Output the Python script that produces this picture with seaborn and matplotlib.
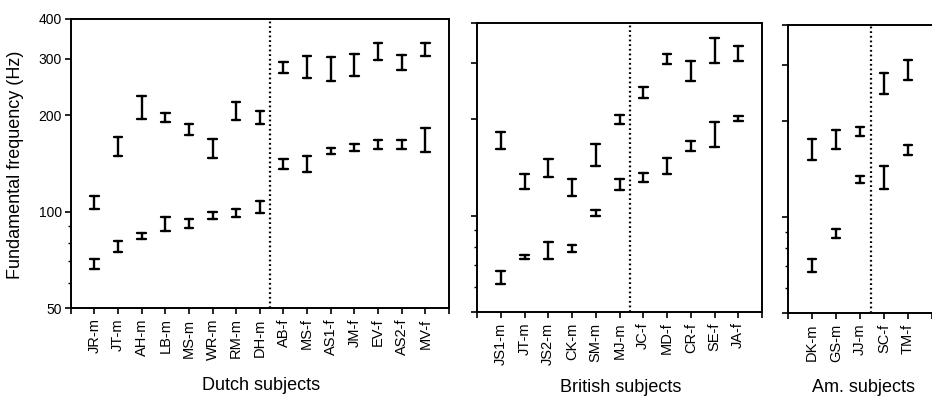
import matplotlib
matplotlib.use("Agg")
import matplotlib.pyplot as plt
from matplotlib.ticker import FixedLocator, NullFormatter, FixedFormatter
import seaborn as sns
import pandas as pd

# ---- Dutch speakers ----
dutch_subjects = ["JR-m", "JT-m", "AH-m", "LB-m", "MS-m", "WR-m", "RM-m", "DH-m",
                  "AB-f", "MS-f", "AS1-f", "JM-f", "EV-f", "AS2-f", "MV-f"]
dutch_low_lo = [66, 75, 82, 87, 89, 95, 96.5, 99, 136, 133, 151, 155, 157, 157, 154]
dutch_low_hi = [71, 81, 86, 96, 95, 99.5, 102, 108, 146, 149, 158, 163, 168, 167.5, 183]
dutch_high_lo = [102, 149, 195, 191, 174, 147, 193, 188, 271, 261, 256, 265, 298, 278, 307]
dutch_high_hi = [112, 171, 230, 204, 188, 169, 220, 206, 294, 307, 304, 310, 337, 309, 336]

# ---- British speakers ----
british_subjects = ["JS1-m", "JT-m", "JS2-m", "CK-m", "SM-m", "MJ-m",
                    "JC-f", "MD-f", "CR-f", "SE-f", "JA-f"]
british_low_lo = [61, 73, 73, 77, 100, 120, 127, 134.5, 159, 164, 197]
british_low_hi = [67, 75.5, 83, 81, 104, 130, 136, 151, 171, 196, 205]
british_high_lo = [161, 121, 132, 115, 143, 193, 233, 297, 263, 301, 305]
british_high_hi = [182, 134.5, 150, 130, 167, 206, 253, 320, 305, 358, 340]

# ---- American speakers ----
am_subjects = ["DK-m", "GS-m", "JJ-m", "SC-f", "TM-f"]
am_low_lo = [67, 86, 127.5, 122, 156]
am_low_hi = [74, 91.5, 134, 145, 168]
am_high_lo = [151, 163, 180, 243, 269]
am_high_hi = [175, 187, 192, 282, 311]

y_ticks = [50, 100, 200, 300, 400]
y_minor = [60, 70, 80, 90]

sns.set_style("ticks")
plt.rcParams["font.family"] = ["Liberation Sans", "DejaVu Sans"]
plt.rcParams.update({"text.color": "black", "axes.labelcolor": "black",
                     "xtick.color": "black", "ytick.color": "black"})

W, H = 932, 401
fig = plt.figure(figsize=(W / 100, H / 100), dpi=100)


def long_frame(subjects, low_lo, low_hi, high_lo, high_hi):
    rows = []
    for s, a, b, c, d in zip(subjects, low_lo, low_hi, high_lo, high_hi):
        rows += [(s, "low", a), (s, "low", b), (s, "high", c), (s, "high", d)]
    return pd.DataFrame(rows, columns=["subject", "band", "f0"])


def panel(px_left, px_right, px_top, px_bottom, subjects, lows_highs,
          split, xmax=None, ylabels=False, right_spine=True):
    ax = fig.add_axes([px_left / W, (H - px_bottom) / H,
                       (px_right - px_left) / W, (px_bottom - px_top) / H])
    df = long_frame(subjects, *lows_highs)
    sns.pointplot(data=df, x="subject", y="f0", hue="band", order=subjects,
                  hue_order=["low", "high"], palette=["black", "black"],
                  errorbar=("pi", 100), dodge=False, linestyle="none",
                  marker="", markersize=0, capsize=0.36,
                  err_kws={"linewidth": 1.7}, legend=False, ax=ax)
    n = len(subjects)
    ax.set_yscale("log")
    ax.set_ylim(50, 400)
    ax.set_xlim(-1, n if xmax is None else xmax)
    ax.axvline(split, color="black", linestyle=(0, (0.8, 1.3)), linewidth=1.6)

    ax.yaxis.set_major_locator(FixedLocator(y_ticks))
    ax.yaxis.set_minor_locator(FixedLocator(y_minor))
    ax.yaxis.set_minor_formatter(NullFormatter())
    if ylabels:
        ax.yaxis.set_major_formatter(FixedFormatter([str(v) for v in y_ticks]))
    else:
        ax.yaxis.set_major_formatter(NullFormatter())
    ax.tick_params(axis="y", which="major", direction="out", length=4.5,
                   width=1.2, labelsize=10, pad=2)
    ax.tick_params(axis="y", which="minor", direction="out", length=2.5, width=1)

    ax.set_xticks(list(range(-1, n + 1)))
    ax.set_xticklabels([""] + subjects + [""], rotation=90, fontsize=10.5)
    ax.tick_params(axis="x", direction="out", length=4.5, width=1.2, pad=3)
    ax.set_xlabel("")
    ax.set_ylabel("")
    for side in ["left", "right", "top", "bottom"]:
        ax.spines[side].set_linewidth(1.4)
        ax.spines[side].set_color("black")
    ax.spines["right"].set_visible(right_spine)
    return ax


panel(70.7, 449, 19, 308, dutch_subjects,
      (dutch_low_lo, dutch_low_hi, dutch_high_lo, dutch_high_hi),
      split=7.45, ylabels=True)
panel(477, 762, 23, 312, british_subjects,
      (british_low_lo, british_low_hi, british_high_lo, british_high_hi),
      split=5.45)
panel(788, 932, 25, 313, am_subjects,
      (am_low_lo, am_low_hi, am_high_lo, am_high_hi),
      split=2.45, xmax=4.95, right_spine=False)

fig.text(16 / W, 1 - 165 / H, "Fundamental frequency (Hz)", rotation=90,
         ha="center", va="center", fontsize=13)
fig.text(261 / W, 1 - 385 / H, "Dutch subjects", ha="center", va="center", fontsize=13)
fig.text(621 / W, 1 - 388 / H, "British subjects", ha="center", va="center", fontsize=13)
fig.text(863 / W, 1 - 388 / H, "Am. subjects", ha="center", va="center", fontsize=13)

fig.savefig("out.png", dpi=100)
